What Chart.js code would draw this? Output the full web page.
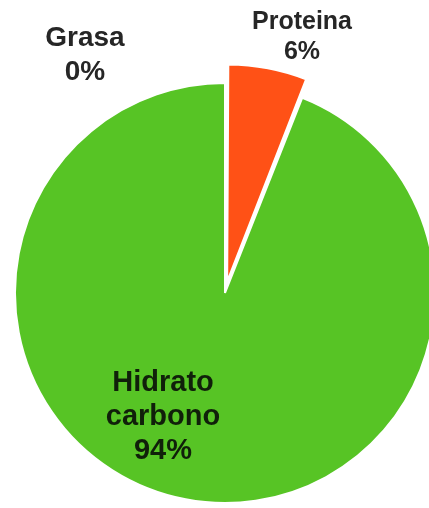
<!DOCTYPE html>
<html>
<head>
<meta charset="utf-8">
<script src="https://cdn.jsdelivr.net/npm/chart.js@4.4.0/dist/chart.umd.min.js"></script>
<style>
  html, body { margin: 0; padding: 0; background: #fff; }
  #wrap { width: 429px; height: 508px; position: relative; }
</style>
</head>
<body>
<div id="wrap"><canvas id="pie"></canvas></div>
<script>
// datos
const categories = ['Proteina', 'Hidrato carbono', 'Grasa'];
const labelLines = [['Proteina'], ['Hidrato', 'carbono'], ['Grasa']];
const values = [6, 94, 0];
const colors = ['#FF5116', '#57C425', '#9E9E9E'];

// posicion de las etiquetas respecto al centro del pastel
const labelStyle = [
    { dx: 77, dy: -256, size: 25, lineH: 30, color: '#262626' },
    { dx: -62, dy: 124, size: 29, lineH: 34, color: '#10200a' },
    { dx: -140, dy: -238, size: 28, lineH: 34, color: '#262626' }
];

const total = values.reduce((a, b) => a + b, 0);

const labelsPlugin = {
    id: 'pieLabels',
    afterDatasetsDraw(chart) {
        const ctx = chart.ctx;
        const arc = chart.getDatasetMeta(0).data[1];
        const cx = arc.x, cy = arc.y;
        ctx.save();
        ctx.textAlign = 'center';
        ctx.textBaseline = 'middle';
        values.forEach((v, i) => {
            const st = labelStyle[i];
            const lines = labelLines[i].concat([Math.round(v / total * 100) + '%']);
            ctx.font = 'bold ' + st.size + 'px "Liberation Sans", Arial, sans-serif';
            ctx.fillStyle = st.color;
            const startY = cy + st.dy - (lines.length - 1) * st.lineH / 2;
            lines.forEach((t, j) => ctx.fillText(t, cx + st.dx, startY + j * st.lineH));
        });
        ctx.restore();
    }
};

new Chart(document.getElementById('pie'), {
    type: 'pie',
    data: {
        labels: categories,
        datasets: [{
            data: values,
            backgroundColor: colors,
            borderColor: '#ffffff',
            borderWidth: 2,
            offset: [46, 0, 0],   // chart.js divide el offset entre 4
            clip: false
        }]
    },
    options: {
        responsive: true,
        maintainAspectRatio: false,
        animation: false,
        radius: 210,
        layout: { padding: { left: 21, right: 0, top: 78, bottom: 0 } },
        plugins: {
            legend: { display: false },
            tooltip: { enabled: false }
        }
    },
    plugins: [labelsPlugin]
});
</script>
</body>
</html>
